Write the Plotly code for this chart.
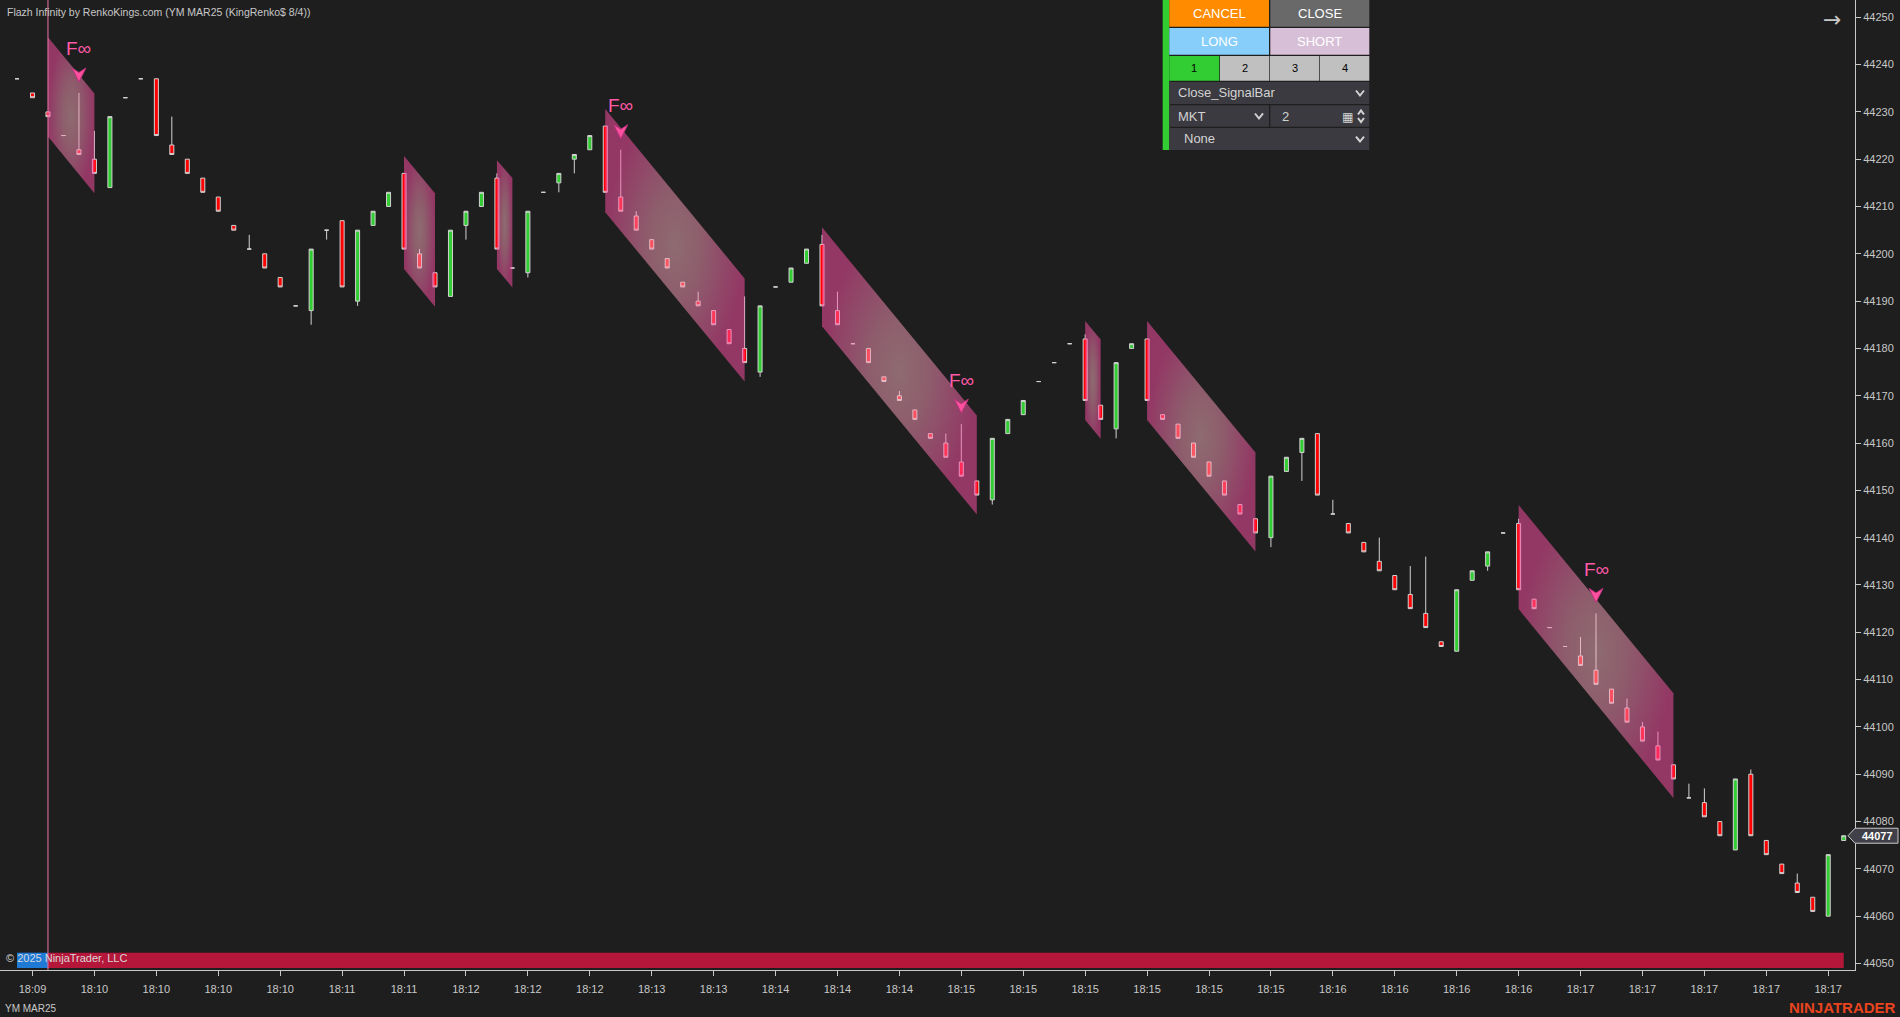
import plotly.graph_objects as go

# ---------------- data (Renko bars, index -1 .. 117) ----------------
bars = list(range(-1, 118))
opens = [44237, 44234, 44230, 44225, 44222, 44220, 44214, 44233, 44237, 44237,
         44223, 44220, 44216, 44212, 44206, 44201, 44200, 44195, 44189, 44188,
         44205, 44207, 44190, 44206, 44210, 44217, 44200, 44196, 44191, 44206,
         44210, 44216, 44197, 44196, 44213, 44215, 44220, 44222, 44227, 44212,
         44208, 44203, 44199, 44194, 44190, 44188, 44184, 44180, 44175, 44193,
         44194, 44198, 44202, 44188, 44181, 44180, 44174, 44170, 44167, 44162,
         44160, 44156, 44152, 44148, 44162, 44166, 44173, 44177, 44181, 44182,
         44168, 44163, 44180, 44182, 44166, 44164, 44160, 44156, 44152, 44147,
         44144, 44140, 44154, 44158, 44162, 44145, 44143, 44139, 44135, 44132,
         44128, 44124, 44118, 44116, 44131, 44134, 44141, 44143, 44127, 44121,
         44117, 44115, 44112, 44108, 44104, 44100, 44096, 44092, 44085, 44084,
         44080, 44074, 44090, 44076, 44071, 44067, 44064, 44060, 44076]
highs = [44237, 44234, 44230, 44225, 44234, 44226, 44229, 44233, 44237, 44237,
         44229, 44220, 44216, 44212, 44206, 44204, 44200, 44195, 44189, 44201,
         44205, 44207, 44205, 44209, 44213, 44217, 44201, 44196, 44205, 44209,
         44213, 44217, 44197, 44209, 44213, 44217, 44221, 44225, 44227, 44222,
         44209, 44203, 44199, 44194, 44192, 44188, 44184, 44191, 44189, 44193,
         44197, 44201, 44204, 44192, 44181, 44180, 44174, 44171, 44167, 44162,
         44162, 44164, 44152, 44161, 44165, 44169, 44173, 44177, 44181, 44183,
         44168, 44177, 44181, 44182, 44166, 44164, 44160, 44156, 44152, 44147,
         44144, 44153, 44157, 44161, 44162, 44148, 44143, 44139, 44140, 44132,
         44134, 44136, 44118, 44129, 44133, 44137, 44141, 44144, 44127, 44121,
         44117, 44119, 44124, 44108, 44106, 44101, 44099, 44092, 44088, 44087,
         44080, 44089, 44091, 44076, 44071, 44069, 44064, 44073, 44077]
lows = [44237, 44233, 44229, 44225, 44221, 44217, 44214, 44233, 44237, 44225,
        44221, 44217, 44213, 44209, 44205, 44201, 44197, 44193, 44189, 44185,
        44203, 44193, 44189, 44206, 44210, 44201, 44197, 44193, 44191, 44203,
        44210, 44201, 44197, 44195, 44213, 44213, 44217, 44222, 44213, 44209,
        44205, 44201, 44197, 44193, 44189, 44185, 44181, 44177, 44174, 44193,
        44194, 44198, 44189, 44185, 44181, 44177, 44173, 44169, 44165, 44161,
        44157, 44153, 44149, 44147, 44162, 44166, 44173, 44177, 44181, 44169,
        44165, 44161, 44180, 44169, 44165, 44161, 44157, 44153, 44149, 44145,
        44141, 44138, 44154, 44152, 44149, 44145, 44141, 44137, 44133, 44129,
        44125, 44121, 44117, 44116, 44131, 44133, 44141, 44129, 44125, 44121,
        44117, 44113, 44109, 44105, 44101, 44097, 44093, 44089, 44085, 44081,
        44077, 44074, 44077, 44073, 44069, 44065, 44061, 44060, 44076]
closes = [44237, 44233, 44229, 44225, 44221, 44217, 44229, 44233, 44237, 44225,
          44221, 44217, 44213, 44209, 44205, 44201, 44197, 44193, 44189, 44201,
          44205, 44193, 44205, 44209, 44213, 44201, 44197, 44193, 44205, 44209,
          44213, 44201, 44197, 44209, 44213, 44217, 44221, 44225, 44213, 44209,
          44205, 44201, 44197, 44193, 44189, 44185, 44181, 44177, 44189, 44193,
          44197, 44201, 44189, 44185, 44181, 44177, 44173, 44169, 44165, 44161,
          44157, 44153, 44149, 44161, 44165, 44169, 44173, 44177, 44181, 44169,
          44165, 44177, 44181, 44169, 44165, 44161, 44157, 44153, 44149, 44145,
          44141, 44153, 44157, 44161, 44149, 44145, 44141, 44137, 44133, 44129,
          44125, 44121, 44117, 44129, 44133, 44137, 44141, 44129, 44125, 44121,
          44117, 44113, 44109, 44105, 44101, 44097, 44093, 44089, 44085, 44081,
          44077, 44089, 44077, 44073, 44069, 44065, 44061, 44073, 44077]

# x-axis time labels (every 4th bar)
tick_bars = list(range(0, 117, 4))
tick_labels = ["18:09", "18:10", "18:10", "18:10", "18:10", "18:11", "18:11",
               "18:12", "18:12", "18:12", "18:13", "18:13", "18:14", "18:14",
               "18:14", "18:15", "18:15", "18:15", "18:15", "18:15", "18:15",
               "18:16", "18:16", "18:16", "18:16", "18:17", "18:17", "18:17",
               "18:17", "18:17"]

# Flazh channels (parallelograms)
ch_start = [1, 24, 30, 37, 51, 68, 72, 96]
ch_end = [4, 26, 31, 46, 61, 69, 79, 106]
ch_top_start = [44245.8, 44220.7, 44219.8, 44230.6, 44205.6, 44185.8, 44185.8, 44146.9]
ch_top_end = [44233.9, 44212.8, 44216.0, 44194.8, 44165.8, 44181.9, 44158.0, 44107.1]
ch_bot_start = [44224.8, 44196.8, 44196.8, 44208.8, 44184.7, 44164.9, 44164.9, 44124.9]
ch_bot_end = [44212.8, 44188.8, 44192.9, 44173.0, 44144.9, 44160.9, 44137.1, 44085.0]

# short signals (F-infinity markers)
signal_bars = [3, 38, 60, 101]

# trend strip at the bottom
strip_start = [-1, 1]
strip_end = [1, 117]
strip_color = ["#1f7ad6", "#b5173a"]

# vertical marker line
vline_bar = 1

# ---------------- layout geometry ----------------
W, H = 1900, 1017
ML, MR, MT, MB = 0, 45, 0, 47
PW, PH = W - ML - MR, H - MT - MB
X_RANGE = [-2.0995, 117.73]
Y_RANGE = [44048.62, 44253.65]
BG = "#1e1e1e"
AX = "#c8c8c8"
FONT = "Liberation Sans, Arial, sans-serif"


def px(x):
    return x / PW


def py(y):
    return 1 - y / PH


def note(x, y, text, size, color, xanchor="center", yanchor="middle", family=FONT,
         xref="paper", yref="paper", **kw):
    d = dict(x=x, y=y, xref=xref, yref=yref, text=text, showarrow=False,
             xanchor=xanchor, yanchor=yanchor,
             font=dict(family=family, size=size, color=color))
    d.update(kw)
    return d


fig = go.Figure()

fig.add_trace(go.Candlestick(
    x=bars, open=opens, high=highs, low=lows, close=closes,
    increasing=dict(fillcolor="#32cd32", line=dict(color="#d3d3d3", width=1)),
    decreasing=dict(fillcolor="#ff0000", line=dict(color="#d3d3d3", width=1)),
    whiskerwidth=0, hoverinfo="skip", showlegend=False))

for s, e, ts, te, bs, be in zip(ch_start, ch_end, ch_top_start, ch_top_end,
                                ch_bot_start, ch_bot_end):
    fig.add_trace(go.Scatter(
        x=[s, e, e, s, s], y=[ts, te, be, bs, ts], mode="none", fill="toself",
        fillgradient=dict(type="radial", colorscale=[
            [0.0, "rgba(246,178,190,0.52)"],
            [0.4, "rgba(245,150,180,0.52)"],
            [1.0, "rgba(255,78,166,0.52)"]]),
        hoverinfo="skip", showlegend=False))

shapes = []
annotations = []

# bottom strip
for s, e, c in zip(strip_start, strip_end, strip_color):
    shapes.append(dict(type="rect", xref="x", yref="paper", x0=s, x1=e,
                       y0=py(968), y1=py(952.7), fillcolor=c, line=dict(width=0),
                       layer="below"))

# vertical pink line
shapes.append(dict(type="line", xref="x", yref="paper", x0=vline_bar, x1=vline_bar,
                   y0=0, y1=1, line=dict(color="#e878a8", width=1)))

# signals: notched dart arrow pointing down + F∞ label, anchored on the bar's high
for b in signal_bars:
    hi = highs[bars.index(b)]
    shapes.append(dict(type="path", xref="x", yref="y", xsizemode="pixel", ysizemode="pixel",
                       xanchor=b, yanchor=hi,
                       path="M 0,11 L -7,25 L 0,20.5 L 7,25 Z",
                       fillcolor="#ff4f9f", line=dict(color="#b8347a", width=1)))
    annotations.append(note(b, hi, "F∞", 19, "#ff5aa8", xref="x", yref="y", yshift=44))

# last price marker
last = closes[-1]
ly = (last - Y_RANGE[0]) / (Y_RANGE[1] - Y_RANGE[0])
shapes.append(dict(type="path", xref="paper", yref="paper", xsizemode="pixel",
                   ysizemode="pixel", xanchor=1, yanchor=ly,
                   path="M -7,0 L 0,7.5 L 43,7.5 L 43,-7.5 L 0,-7.5 Z",
                   fillcolor="#404048", line=dict(color="#c8c8c8", width=1)))
annotations.append(note(px(1877), ly, "<b>%d</b>" % last, 11, "#ffffff"))

# title & footer texts
annotations.append(note(px(5), py(11.7), "Flazh Infinity by RenkoKings.com (YM MAR25 (KingRenko$ 8/4))",
                        10.5, AX, xanchor="left"))
annotations.append(note(px(4), py(958), "© 2025 NinjaTrader, LLC", 11, "#d8d8d8", xanchor="left"))
annotations.append(note(px(3), py(1008), "YM MAR25", 10, AX, xanchor="left"))
annotations.append(note(px(1898), py(1007), "<b>NINJATRADER</b>", 15, "#e8441e", xanchor="right"))
annotations.append(note(px(1832), py(19.5), "→", 22, AX, family="DejaVu Sans"))

# ---------------- control panel ----------------
shapes.append(dict(type="rect", xref="paper", yref="paper", x0=px(1162.7), x1=px(1169.3),
                   y0=py(150), y1=py(0), fillcolor="#32cd32", line=dict(width=0)))
buttons = [
    ("CANCEL", 1169.3, 0, 1269.0, 26.7, "#ff8c00", "#ffffff", 13, "center"),
    ("CLOSE", 1270.3, 0, 1369.3, 26.7, "#696969", "#ffffff", 13, "center"),
    ("LONG", 1169.3, 28, 1269.0, 54.7, "#87cefa", "#ffffff", 13, "center"),
    ("SHORT", 1270.3, 28, 1369.3, 54.7, "#d8bfd8", "#ffffff", 13, "center"),
    ("1", 1169.3, 56, 1219.3, 80.7, "#32cd32", "#000000", 11, "center"),
    ("2", 1220.0, 56, 1269.3, 80.7, "#c0c0c0", "#000000", 11, "center"),
    ("3", 1270.0, 56, 1319.3, 80.7, "#c0c0c0", "#000000", 11, "center"),
    ("4", 1320.0, 56, 1369.3, 80.7, "#c0c0c0", "#000000", 11, "center"),
    ("Close_SignalBar", 1169.3, 82, 1369.3, 104, "#3a3a40", "#d3d3d3", 13, 1176),
    ("MKT", 1169.3, 105.3, 1269.0, 126.7, "#3a3a40", "#d3d3d3", 13, 1176),
    ("2", 1270.3, 105.3, 1369.3, 126.7, "#3a3a40", "#d3d3d3", 13, 1280),
    ("None", 1169.3, 128, 1369.3, 150, "#3a3a40", "#d3d3d3", 13, 1182),
]
for lab, x0, y0, x1, y1, fc, tc, fs, pos in buttons:
    shapes.append(dict(type="rect", xref="paper", yref="paper", x0=px(x0), x1=px(x1),
                       y0=py(y1), y1=py(y0), fillcolor=fc, line=dict(width=0)))
    if pos == "center":
        annotations.append(note(px((x0 + x1) / 2), py((y0 + y1) / 2), lab, fs, tc))
    else:
        annotations.append(note(px(pos), py((y0 + y1) / 2), lab, fs, tc, xanchor="left"))


def chevron(cx, cy, w=4, h=2.5, up=False):
    s = -1 if up else 1
    return dict(type="path", xref="paper", yref="paper",
                path="M %f,%f L %f,%f L %f,%f" % (px(cx - w), py(cy - s * h), px(cx), py(cy + s * h),
                                                px(cx + w), py(cy - s * h)),
                line=dict(color="#d3d3d3", width=2))


shapes.append(chevron(1360, 93))
shapes.append(chevron(1259, 116))
shapes.append(chevron(1360, 139))
shapes.append(chevron(1361, 112.5, w=3, h=2, up=True))
shapes.append(chevron(1361, 120, w=3, h=2))
annotations.append(note(px(1347.5), py(116.5), "▦", 12, "#d3d3d3", family="DejaVu Sans"))

fig.update_layout(
    width=W, height=H, autosize=False,
    margin=dict(l=ML, r=MR, t=MT, b=MB, pad=0),
    paper_bgcolor=BG, plot_bgcolor=BG,
    showlegend=False, hovermode=False,
    boxgap=0.74, boxgroupgap=0,
    shapes=shapes, annotations=annotations,
    xaxis=dict(range=X_RANGE, rangeslider=dict(visible=False), showgrid=False,
               zeroline=False, tickmode="array", tickvals=tick_bars, ticktext=tick_labels,
               ticks="outside", ticklen=5, tickcolor=AX, showline=True, linecolor=AX,
               linewidth=1, ticklabelstandoff=4,
               tickfont=dict(family=FONT, size=11, color=AX)),
    yaxis=dict(range=Y_RANGE, side="right", showgrid=False, zeroline=False,
               tick0=44050, dtick=10, tickformat="d", ticks="outside", ticklen=5,
               tickcolor=AX, showline=True, linecolor=AX, linewidth=1,
               tickfont=dict(family=FONT, size=11, color=AX)),
)

fig.write_html("out.html", config={"displayModeBar": False},
               post_script="document.body.style.margin='0';document.body.style.overflow='hidden';")
